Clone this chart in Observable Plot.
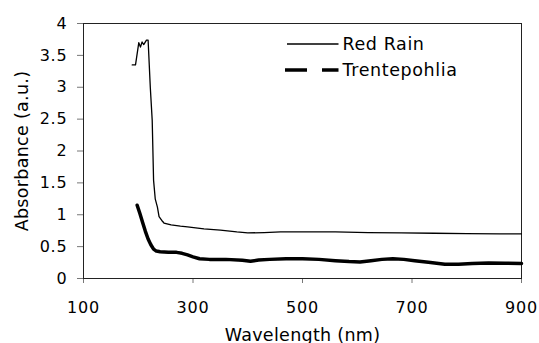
<!DOCTYPE html>
<html><head><meta charset="utf-8">
<script src="https://cdn.jsdelivr.net/npm/d3@7"></script>
<script src="https://cdn.jsdelivr.net/npm/@observablehq/plot@0.6"></script>
<style>
body{margin:0;background:#fff;}
#wrap{position:relative;width:539px;height:343px;overflow:hidden;}
#legend{position:absolute;left:0;top:0;}
</style></head><body><div id="wrap"></div>
<script>
// ---- data ----
const seriesNames = ["Red Rain", "Trentepohlia"];

const redRainWavelength = [189,195,201,204,207,210,215,218,222,225.5,228,231,235,238,243,247,260,277,290,320,350,380,400,430,460,520,560,620,680,740,800,860,900];
const redRainAbsorbance = [3.35,3.35,3.70,3.63,3.71,3.67,3.74,3.74,3.00,2.48,1.54,1.25,1.12,0.97,0.91,0.87,0.84,0.82,0.81,0.78,0.76,0.73,0.715,0.72,0.73,0.73,0.73,0.72,0.715,0.71,0.705,0.70,0.70];

const trentepohliaWavelength = [198,203,208,213,218,223,228,233,240,255,270,280,290,300,312,330,360,390,405,420,440,470,500,530,560,585,605,625,645,665,685,705,730,760,785,810,840,870,900];
const trentepohliaAbsorbance = [1.15,1.02,0.88,0.74,0.62,0.53,0.46,0.43,0.42,0.41,0.41,0.395,0.37,0.34,0.31,0.30,0.30,0.285,0.27,0.29,0.30,0.31,0.31,0.30,0.28,0.265,0.26,0.28,0.30,0.31,0.30,0.28,0.255,0.225,0.225,0.235,0.245,0.24,0.235];

const xTicks = [100, 300, 500, 700, 900];
const yTicks = [0, 0.5, 1, 1.5, 2, 2.5, 3, 3.5, 4];
const xLabel = "Wavelength (nm)";
const yLabel = "Absorbance (a.u.)";

// ---- build tables ----
const redRain = redRainWavelength.map((w, i) => ({w, a: redRainAbsorbance[i]}));
const trentepohlia = trentepohliaWavelength.map((w, i) => ({w, a: trentepohliaAbsorbance[i]}));

const chart = Plot.plot({
  width: 539, height: 343,
  marginLeft: 83, marginRight: 18, marginTop: 23, marginBottom: 65,
  style: {fontFamily: "DejaVu Sans", fontSize: "16px", background: "#fff", color: "#000", overflow: "visible"},
  x: {domain: [100, 900]},
  y: {domain: [0, 4]},
  marks: [
    Plot.axisX({ticks: xTicks, tickSize: 5, tickPadding: 18, tickFormat: d => String(d), stroke: "#777",
      label: xLabel, labelAnchor: "center", labelArrow: "none", labelOffset: 62}),
    Plot.axisY({ticks: yTicks, tickSize: 6, tickPadding: 10, tickFormat: d => String(d), stroke: "#777",
      label: yLabel, labelAnchor: "center", labelArrow: "none", labelOffset: 68}),
    Plot.frame({stroke: "#222", strokeWidth: 1}),
    Plot.line(trentepohlia, {x: "w", y: "a", stroke: "#000", strokeWidth: 3.5, strokeLinejoin: "round"}),
    Plot.line(redRain, {x: "w", y: "a", stroke: "#000", strokeWidth: 1.3, strokeLinejoin: "round"})
  ]
});

// title fonts slightly larger than tick labels
chart.querySelectorAll("text").forEach(t => {
  const s = t.textContent;
  if (s === xLabel || s === yLabel) {
    t.setAttribute("font-size", "17.5px");
    t.setAttribute("letter-spacing", "0.3px");
  } else {
    t.setAttribute("letter-spacing", "0.8px");
  }
});

const wrap = document.getElementById("wrap");
wrap.appendChild(chart);

// ---- legend ----
const ns = "http://www.w3.org/2000/svg";
const lg = document.createElementNS(ns, "svg");
lg.setAttribute("id", "legend");
lg.setAttribute("width", 539);
lg.setAttribute("height", 343);
const styles = [
  {width: 1.3, dash: null, y: 44},
  {width: 3.4, dash: "22 15", y: 70}
];
seriesNames.forEach((name, i) => {
  const st = styles[i];
  const ln = document.createElementNS(ns, "line");
  ln.setAttribute("x1", i === 0 ? 287 : 285);
  ln.setAttribute("x2", 338.5);
  ln.setAttribute("y1", st.y);
  ln.setAttribute("y2", st.y);
  ln.setAttribute("stroke", "#000");
  ln.setAttribute("stroke-width", st.width);
  if (st.dash) ln.setAttribute("stroke-dasharray", st.dash);
  lg.appendChild(ln);
  const tx = document.createElementNS(ns, "text");
  tx.setAttribute("x", 342.5);
  tx.setAttribute("y", st.y + 6);
  tx.setAttribute("font-family", "DejaVu Sans");
  tx.setAttribute("font-size", "17.5px");
  tx.setAttribute("letter-spacing", "0.6px");
  tx.setAttribute("fill", "#000");
  tx.textContent = name;
  lg.appendChild(tx);
});
wrap.appendChild(lg);
</script>
</body></html>
